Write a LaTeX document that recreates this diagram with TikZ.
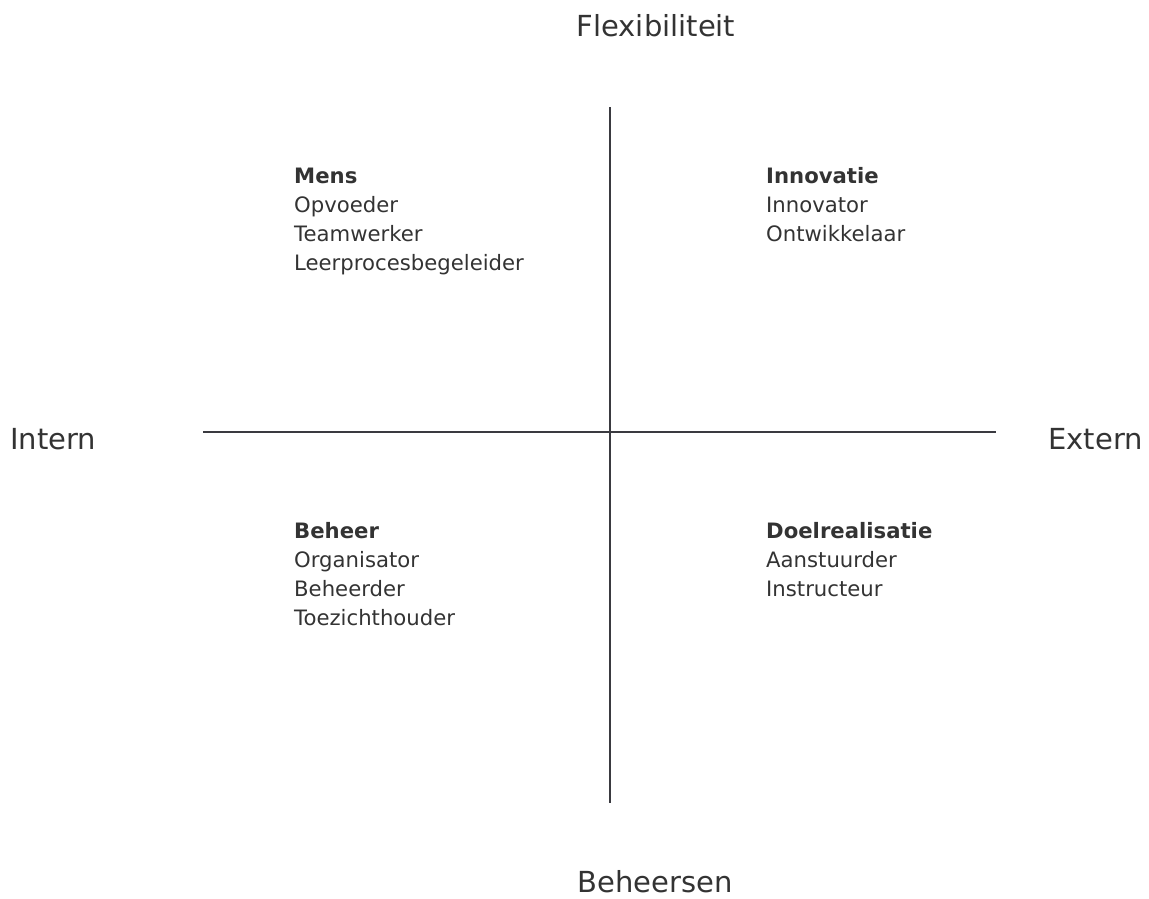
\documentclass[tikz,border=0pt]{standalone}
\usepackage{fontspec}
\setmainfont{DejaVu Sans}
\definecolor{txt}{HTML}{333333}
\definecolor{axis}{HTML}{3A3A40}
\begin{document}
\begin{tikzpicture}[x=1pt,y=-1pt,
  axislabel/.style={inner sep=0pt,text=txt,font=\fontsize{29}{34}\selectfont},
  quad/.style={inner sep=0pt,anchor=base west,align=left,text=txt,font=\fontsize{21.2}{29}\selectfont},
  axisline/.style={draw=axis,line width=2pt}]
\useasboundingbox (0,0) rectangle (1149,898);
\coordinate (vtop) at (610,107);
\coordinate (vbot) at (610,803);
\coordinate (hl) at (203,432);
\coordinate (hr) at (996,432);
\draw[axisline] (vtop) -- (vbot);
\draw[axisline] (hl) -- (hr);
\node[axislabel,anchor=base] (flex) at (656,36) {Flexibiliteit};
\node[axislabel,anchor=base] (behs) at (655,892) {Beheersen};
\node[axislabel,anchor=base west] (intern) at (10,449) {Intern};
\node[axislabel,anchor=base east] (extern) at (1143,449) {Extern};
\node[quad] (mens) at (294,270) {\textbf{Mens}\\Opvoeder\\Teamwerker\\Leerprocesbegeleider};
\node[quad] (innov) at (766,241) {\textbf{Innovatie}\\Innovator\\Ontwikkelaar};
\node[quad] (beheer) at (294,625) {\textbf{Beheer}\\Organisator\\Beheerder\\Toezichthouder};
\node[quad] (doel) at (766,596) {\textbf{Doelrealisatie}\\Aanstuurder\\Instructeur};
\end{tikzpicture}
\end{document}
